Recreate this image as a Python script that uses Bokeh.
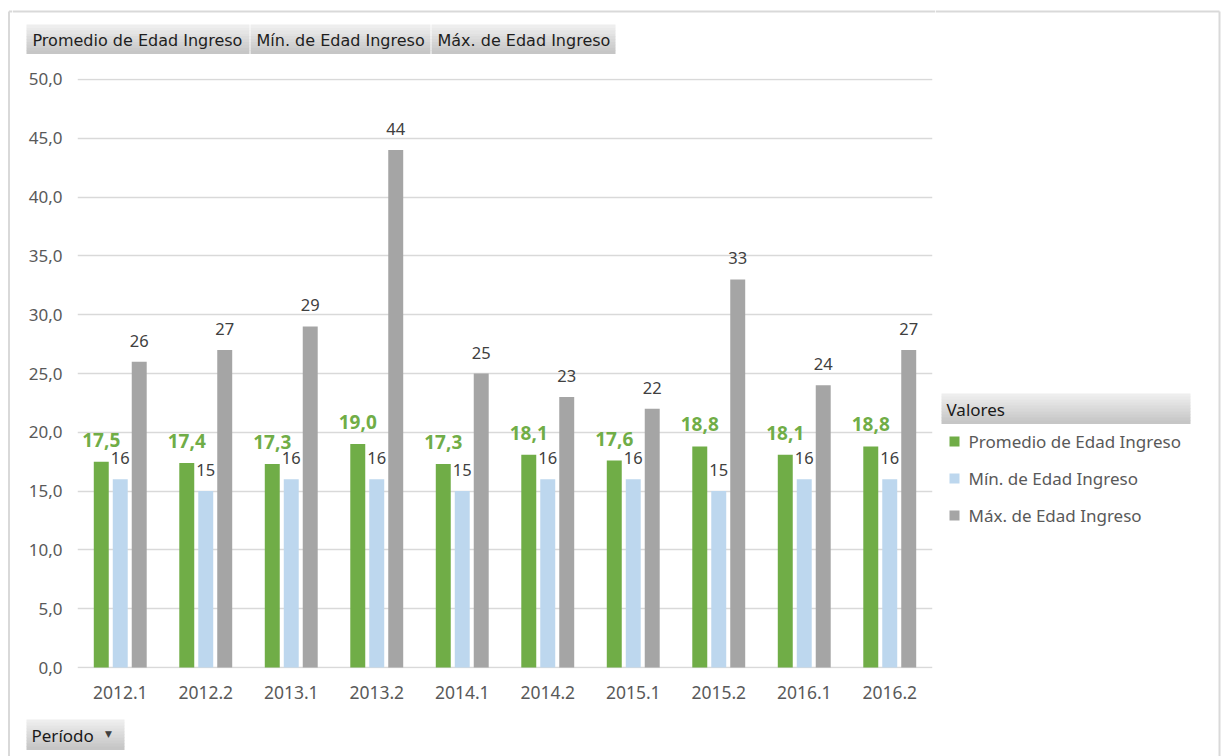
from bokeh.plotting import figure
from bokeh.layouts import column, row
from bokeh.models import (FactorRange, Range1d, ColumnDataSource, LabelSet,
                          CustomJSTickFormatter, FixedTicker)
from bokeh.transform import dodge
from bokeh.core.properties import value
from bokeh.embed import file_html
from bokeh.resources import INLINE

# ---------------- data ----------------
periods = ["2012.1", "2012.2", "2013.1", "2013.2", "2014.1",
           "2014.2", "2015.1", "2015.2", "2016.1", "2016.2"]
promedio = [17.5, 17.4, 17.3, 19.0, 17.3, 18.1, 17.6, 18.8, 18.1, 18.8]
minimo = [16, 15, 16, 16, 15, 16, 16, 15, 16, 16]
maximo = [26, 27, 29, 44, 25, 23, 22, 33, 24, 27]
series_names = ["Promedio de Edad Ingreso", "Mín. de Edad Ingreso", "Máx. de Edad Ingreso"]
series_colors = ["#70ad47", "#bdd7ee", "#a5a5a5"]
y_ticks = [0, 5, 10, 15, 20, 25, 30, 35, 40, 45, 50]
legend_title = "Valores"
axis_field = "Período"

FONT = "Noto Sans"
BTN_FONT = "DejaVu Sans"
BORDER = "#d9d9d9"

# page layout (pixels)
PAGE_W, PAGE_H = 1223, 756
TOP_H = 56
BOT_H = 40
MID_H = PAGE_H - TOP_H - BOT_H
STRIP_W = 12
MAIN_W = 923
X_MID1 = STRIP_W + MAIN_W
X_BL, X_BR = 8.5, 1219


def deco(x0, x1, y0, y1):
    f = figure(width=int(x1 - x0), height=int(y1 - y0), x_range=Range1d(x0, x1),
               y_range=Range1d(y1, y0), output_backend="svg", toolbar_location=None,
               x_axis_location=None, y_axis_location=None, title=None,
               min_border=0, min_border_left=0, min_border_right=0,
               min_border_top=0, min_border_bottom=0)
    f.grid.visible = False
    f.outline_line_color = None
    f.background_fill_color = "white"
    f.border_fill_color = "white"
    return f


def gradient(f, x0, x1, y0, y1, c_top=(238, 238, 238), c_bot=(198, 198, 198), n=10):
    h = (y1 - y0) / n
    cols, tops, bots = [], [], []
    for k in range(n):
        t = k / (n - 1)
        cols.append("#%02x%02x%02x" % tuple(int(round(a + (b - a) * t)) for a, b in zip(c_top, c_bot)))
        tops.append(y0 + k * h)
        bots.append(y0 + (k + 1) * h + 0.4)
    f.quad(left=[x0] * n, right=[x1] * n, top=tops, bottom=bots, fill_color=cols, line_color=None)


def txt(f, x, y, s, font=FONT, size="17px", color="#595959", align="left"):
    f.text(x=[x], y=[y], text=[s], text_font=value(font), text_font_size=value(size),
           text_color=color, text_align=align, text_baseline="middle")


def vline(f, x, y0, y1):
    f.segment(x0=[x], y0=[y0], x1=[x], y1=[y1], line_color=BORDER, line_width=2)


def hline(f, x0, x1, y):
    f.segment(x0=[x0], y0=[y], x1=[x1], y1=[y], line_color=BORDER, line_width=2)


# ---------------- left full-height strip ----------------
left = deco(0, STRIP_W, 0, PAGE_H)
vline(left, X_BL, 11, PAGE_H)
hline(left, X_BL, STRIP_W, 11)

# ---------------- top strip (buttons) ----------------
top = deco(STRIP_W, X_MID1, 0, TOP_H)
hline(top, STRIP_W, X_MID1, 11)
btns = [(26, 249), (250, 430), (431, 615)]
for (x0, x1), name in zip(btns, series_names):
    gradient(top, x0, x1, 24, 53)
    txt(top, x0 + 6, 39.5, name, font=BTN_FONT, size="16px", color="#1e1e1e")

# ---------------- main chart ----------------
FRAME_L, FRAME_T, FW, FH = 77, 78, 855, 590
bl = FRAME_L - STRIP_W
bt = FRAME_T - TOP_H
br = MAIN_W - bl - FW
bb = MID_H - bt - FH

p = figure(width=MAIN_W, height=MID_H, x_range=FactorRange(*periods),
           y_range=Range1d(-0.085, 50.085), output_backend="svg", title=None,
           toolbar_location=None, min_border_left=bl, min_border_right=br,
           min_border_top=bt, min_border_bottom=bb)
p.outline_line_color = None
p.background_fill_color = "white"
p.border_fill_color = "white"
p.xgrid.visible = False
p.ygrid.ticker = FixedTicker(ticks=y_ticks)
p.ygrid.grid_line_color = "#d9d9d9"
p.ygrid.grid_line_width = 1.5
p.yaxis.ticker = FixedTicker(ticks=y_ticks)
p.yaxis.formatter = CustomJSTickFormatter(code="return tick.toFixed(1).replace('.', ',');")
for ax in (p.xaxis[0], p.yaxis[0]):
    ax.axis_line_color = None
    ax.major_tick_line_color = None
    ax.minor_tick_line_color = None
    ax.major_label_text_font = FONT
    ax.major_label_text_font_size = "17px"
    ax.major_label_text_color = "#595959"
p.xaxis.major_label_text_font_size = "17.5px"
p.yaxis.major_label_standoff = 9
p.xaxis.major_label_standoff = 11

fmt_avg = [f"{v:.1f}".replace(".", ",") for v in promedio]
src = ColumnDataSource(dict(period=periods, promedio=promedio, minimo=minimo, maximo=maximo,
                            lbl_avg=fmt_avg, lbl_min=[str(v) for v in minimo],
                            lbl_max=[str(v) for v in maximo]))

offsets = [-0.222, 0.0, 0.222]
fields = ["promedio", "minimo", "maximo"]
lbl_fields = ["lbl_avg", "lbl_min", "lbl_max"]
for off, f, c in zip(offsets, fields, series_colors):
    p.vbar(x=dodge("period", off, range=p.x_range), top=f, width=0.175, source=src,
           fill_color=c, line_color=None)

for i, (off, lf, f) in enumerate(zip(offsets, lbl_fields, fields)):
    p.add_layout(LabelSet(x=dodge("period", off, range=p.x_range), y=f, text=lf, source=src,
                          text_align="center", text_baseline="alphabetic", y_offset=15,
                          text_font=value(FONT),
                          text_font_size=value("19px" if i == 0 else "16.5px"),
                          text_font_style="bold" if i == 0 else "normal",
                          text_color="#70ad47" if i == 0 else "#404040"))

# ---------------- bottom strip ----------------
bot = deco(STRIP_W, X_MID1, TOP_H + MID_H, PAGE_H)
gradient(bot, 26, 124, 719, 749)
txt(bot, 31, 734.5, axis_field, color="#1a1a1a")
txt(bot, 108, 733.5, "▼", font="DejaVu Sans", size="9px", color="#404040", align="center")

# ---------------- right full-height strip (legend) ----------------
leg = deco(X_MID1, PAGE_W, 0, PAGE_H)
hline(leg, X_MID1, X_BR, 11)
vline(leg, X_BR, 11, PAGE_H)
gradient(leg, 941, 1190, 393, 423)
txt(leg, 946, 408.5, legend_title, color="#1a1a1a")
for k, (name, c) in enumerate(zip(series_names, series_colors)):
    cy = 441 + 37 * k
    leg.quad(left=[949], right=[959], top=[cy - 5], bottom=[cy + 5], fill_color=c, line_color=None)
    txt(leg, 968, cy, name)

layout = row(left, column(top, row(p), bot), leg)
open("out.html", "w").write(file_html(layout, INLINE))
